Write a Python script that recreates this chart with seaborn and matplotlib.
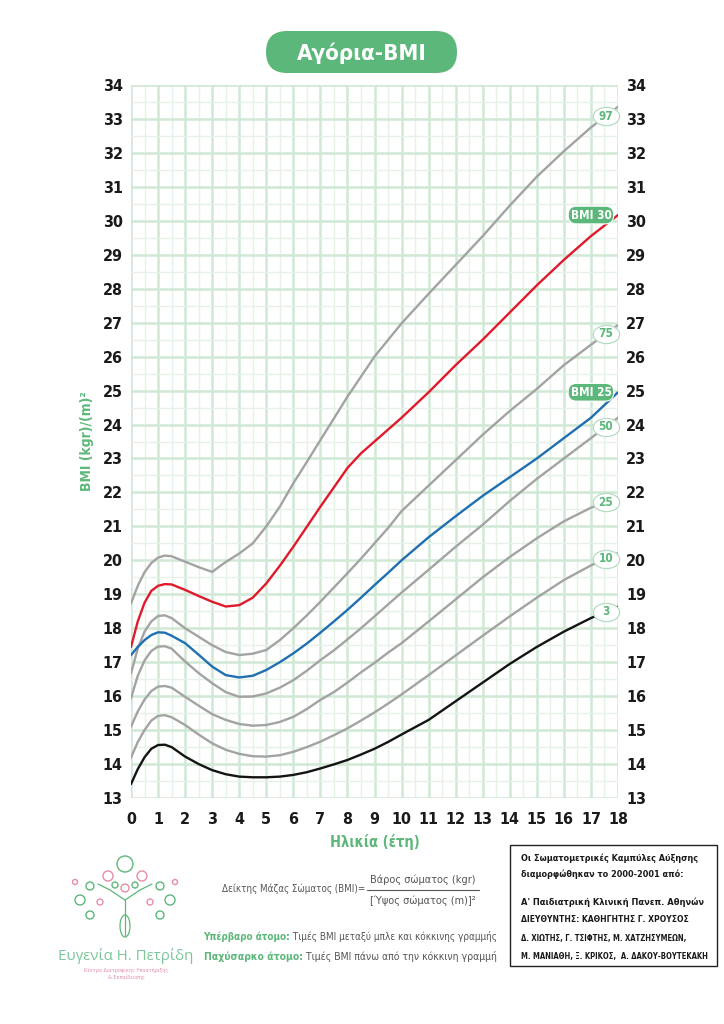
import numpy as np
import pandas as pd
import seaborn as sns
import matplotlib.pyplot as plt
from matplotlib.patches import FancyBboxPatch, Circle, Ellipse
from matplotlib.lines import Line2D
from matplotlib.path import Path
from matplotlib.transforms import Affine2D

sns.set_style('white')
plt.rcParams['font.family'] = ['DejaVu Sans']
plt.rcParams['font.stretch'] = 'condensed'

# ages (years) shared by all curves
ages = [0, 0.25, 0.5, 0.75, 1, 1.25, 1.5, 2, 2.5, 3, 3.5, 4, 4.5, 5, 5.5, 6, 6.5,
        7, 7.5, 8, 8.5, 9, 9.5, 10, 11, 12, 13, 14, 15, 16, 17, 18]

p3 = [13.41, 13.85, 14.2, 14.45, 14.56, 14.57, 14.5, 14.22, 14.0, 13.82, 13.7, 13.63,
      13.61, 13.61, 13.63, 13.68, 13.76, 13.87, 13.99, 14.12, 14.28, 14.45, 14.65, 14.87,
      15.3, 15.85, 16.4, 16.95, 17.45, 17.9, 18.3, 18.63]
p10 = [14.19, 14.65, 15.0, 15.28, 15.42, 15.44, 15.38, 15.15, 14.87, 14.61, 14.42, 14.3,
       14.23, 14.22, 14.26, 14.36, 14.5, 14.66, 14.85, 15.05, 15.28, 15.52, 15.78, 16.05,
       16.62, 17.2, 17.78, 18.35, 18.9, 19.42, 19.85, 20.21]
p25 = [15.1, 15.55, 15.9, 16.15, 16.28, 16.3, 16.25, 15.98, 15.72, 15.47, 15.3, 15.18,
       15.13, 15.15, 15.24, 15.39, 15.62, 15.89, 16.12, 16.4, 16.7, 16.98, 17.28, 17.56,
       18.2, 18.85, 19.5, 20.1, 20.65, 21.15, 21.55, 21.85]
p50 = [15.94, 16.6, 17.05, 17.33, 17.46, 17.47, 17.4, 17.02, 16.68, 16.38, 16.12, 15.98,
       15.99, 16.08, 16.25, 16.47, 16.75, 17.06, 17.35, 17.67, 18.0, 18.35, 18.7, 19.05,
       19.72, 20.4, 21.05, 21.75, 22.4, 23.0, 23.6, 24.2]
p75 = [16.67, 17.4, 17.9, 18.2, 18.36, 18.38, 18.3, 18.0, 17.75, 17.5, 17.3, 17.21,
       17.25, 17.36, 17.65, 18.0, 18.38, 18.78, 19.2, 19.62, 20.05, 20.5, 20.95, 21.45,
       22.2, 22.95, 23.7, 24.4, 25.05, 25.75, 26.35, 26.93]
p97 = [18.73, 19.25, 19.65, 19.92, 20.08, 20.14, 20.12, 19.96, 19.8, 19.66, 19.95, 20.2,
       20.5, 21.0, 21.58, 22.27, 22.9, 23.54, 24.18, 24.82, 25.41, 26.0, 26.49, 26.98,
       27.85, 28.7, 29.55, 30.45, 31.3, 32.05, 32.75, 33.36]
bmi25 = [17.21, 17.45, 17.65, 17.8, 17.88, 17.87, 17.78, 17.56, 17.22, 16.87, 16.62, 16.55,
         16.6, 16.77, 17.0, 17.26, 17.55, 17.87, 18.2, 18.54, 18.9, 19.27, 19.63, 20.0,
         20.68, 21.3, 21.9, 22.45, 23.0, 23.6, 24.2, 24.95]
bmi30 = [17.45, 18.2, 18.75, 19.1, 19.25, 19.3, 19.29, 19.13, 18.95, 18.78, 18.64, 18.68,
         18.9, 19.32, 19.84, 20.4, 20.99, 21.58, 22.15, 22.72, 23.15, 23.5, 23.85, 24.2,
         24.95, 25.75, 26.5, 27.3, 28.1, 28.85, 29.55, 30.17]

curves = {'97': p97, '75': p75, '50': p50, '25': p25, '10': p10,
          'BMI 30': bmi30, 'BMI 25': bmi25, '3': p3}
palette = {'97': '#a3a3a3', '75': '#a3a3a3', '50': '#a3a3a3', '25': '#a3a3a3',
           '10': '#a3a3a3', 'BMI 30': '#e0192b', 'BMI 25': '#1f6fb2', '3': '#141414'}

df = pd.DataFrame([(k, a, v) for k, vals in curves.items() for a, v in zip(ages, vals)],
                  columns=['curve', 'age', 'bmi'])

green = '#5cb87a'
pink = '#e58fa5'
grey_txt = '#555555'

fig = plt.figure(figsize=(7.24, 10.24), dpi=100)
renderer = fig.canvas.get_renderer()


def fit(t, max_px):
    # shrink a text until it is no wider than max_px
    while t.get_window_extent(renderer).width > max_px:
        t.set_fontsize(t.get_fontsize() - 0.2)
    return t


ax = fig.add_axes([131 / 724, 1 - 798 / 1024, 487 / 724, 713 / 1024])

sns.lineplot(data=df, x='age', y='bmi', hue='curve', palette=palette,
             estimator=None, sort=True, linewidth=1.7, legend=False, ax=ax, zorder=3)

ax.set_xlim(0, 18)
ax.set_ylim(13, 34)
ax.set_xticks(range(0, 19))
ax.set_yticks(range(13, 35))
ax.set_xticks(np.arange(0.5, 18, 1), minor=True)
ax.set_yticks(np.arange(13.5, 34, 1), minor=True)
ax.grid(which='major', color='#d0e8d4', linewidth=1.8, zorder=0)
ax.grid(which='minor', color='#e6f2e8', linewidth=1.0, zorder=0)
ax.set_axisbelow(True)
for s in ax.spines.values():
    s.set_visible(False)
ax.tick_params(which='both', length=0)
ax.tick_params(axis='y', labelright=True, labelsize=11.5, pad=6)
ax.tick_params(axis='x', labelsize=11.5, pad=10)
for t in ax.yaxis.get_major_ticks() + ax.xaxis.get_major_ticks():
    for lab in (t.label1, t.label2):
        lab.set_fontweight('bold')
        lab.set_color('#1a1a1a')

ax.set_xlabel('Ηλικία (έτη)', color=green, fontsize=10.5, fontweight='bold', labelpad=5)
ax.set_ylabel('BMI (kgr)/(m)²', color=green, fontsize=10, fontweight='bold', labelpad=6)

# curve labels: white ellipses on the percentile lines
ellipse = Path.unit_circle().transformed(Affine2D().scale(1.45, 1.0))
for key in ['97', '75', '50', '25', '10', '3']:
    yv = np.interp(17.55, ages, curves[key])
    ax.plot([17.55], [yv], marker=ellipse, ms=19, mfc='white', mec='#b7dcc2', mew=0.9,
            zorder=4, clip_on=False)
    ax.text(17.55, yv, key, ha='center', va='center', fontsize=8.5, fontweight='bold',
            color=green, zorder=5)
for key in ['BMI 30', 'BMI 25']:
    yv = curves[key][-1]
    ax.text(17.0, yv, key, ha='center', va='center', fontsize=8.5, fontweight='bold',
            color='white', zorder=5,
            bbox=dict(boxstyle='round,pad=0.2,rounding_size=0.7', fc=green, ec='white', lw=0.8))

# title pill
axt = fig.add_axes([265 / 724, 1 - 74 / 1024, 193 / 724, 44 / 1024])
axt.set_xlim(0, 193)
axt.set_ylim(0, 44)
axt.axis('off')
axt.add_patch(FancyBboxPatch((1, 1), 191, 42, boxstyle='round,pad=0,rounding_size=21',
                             fc=green, ec='none', clip_on=False))
axt.text(96.5, 21, 'Αγόρια-BMI', ha='center', va='center', color='white',
         fontsize=16, fontweight='bold')

# formula
fit(fig.text(365 / 724, 1 - 889 / 1024, 'Δείκτης Μάζας Σώματος (BMI)=', ha='right',
             va='center', fontsize=10, color=grey_txt), 146)
fit(fig.text(423 / 724, 1 - 880 / 1024, 'Βάρος σώματος (kgr)', ha='center', va='center',
             fontsize=10, color=grey_txt), 106)
fit(fig.text(423 / 724, 1 - 901 / 1024, '[Ύψος σώματος (m)]²', ha='center', va='center',
             fontsize=10, color=grey_txt), 106)
fig.add_artist(Line2D([367 / 724, 479 / 724], [1 - 890 / 1024, 1 - 890 / 1024],
                      color=grey_txt, lw=0.8))

# overweight / obese notes: grey part right-aligned, green label just before it
notes = [('Υπέρβαρο άτομο:', ' Τιμές BMI μεταξύ μπλε και κόκκινης γραμμής', 937, 212),
         ('Παχύσαρκο άτομο:', ' Τιμές BMI πάνω από την κόκκινη γραμμή', 957, 198)]
for head, body, py, wmax in notes:
    tb = fit(fig.text(497 / 724, 1 - py / 1024, body, ha='right', va='center',
                      fontsize=10.5, color=grey_txt), wmax)
    x0 = tb.get_window_extent(renderer).x0
    fig.text(x0 / 724, 1 - py / 1024, head, ha='right', va='center',
             fontsize=tb.get_fontsize(), color=green, fontweight='bold')

# source box
fig.add_artist(plt.Rectangle((510 / 724, 1 - 966 / 1024), 207 / 724, 121 / 1024,
                             transform=fig.transFigure, fill=False, ec='#222222', lw=1.0))
box_lines = [
    ('Οι Σωματομετρικές Καμπύλες Αύξησης', 858, 178),
    ('διαμορφώθηκαν το 2000-2001 από:', 874, 165),
    ("Α' Παιδιατρική Κλινική Πανεπ. Αθηνών", 902, 190),
    ('ΔΙΕΥΘΥΝΤΗΣ: ΚΑΘΗΓΗΤΗΣ Γ. ΧΡΟΥΣΟΣ', 920, 170),
    ('Δ. ΧΙΩΤΗΣ, Γ. ΤΣΙΦΤΗΣ, Μ. ΧΑΤΖΗΣΥΜΕΩΝ,', 938, 170),
    ('Μ. ΜΑΝΙΑΘΗ, Ξ. ΚΡΙΚΟΣ,  Α. ΔΑΚΟΥ-ΒΟΥΤΕΚΑΚΗ', 956, 192),
]
for txt, py, wmax in box_lines:
    fit(fig.text(521 / 724, 1 - py / 1024, txt, ha='left', va='center', fontsize=7.5,
                 fontweight='bold', color='#1a1a1a'), wmax)

# logo: a small decorative tree of fruit-like rings, then the name
axl = fig.add_axes([60 / 724, 1 - 940 / 1024, 130 / 724, 90 / 1024])
axl.set_xlim(0, 130)
axl.set_ylim(0, 90)
axl.axis('off')
axl.plot([65, 65], [5, 40], color=green, lw=0.9)
axl.plot([65, 50, 38], [40, 50, 56], color=green, lw=0.9)
axl.plot([65, 80, 92], [40, 50, 56], color=green, lw=0.9)
rings = [(65, 76, 8, green), (48, 64, 5, pink), (82, 64, 5, pink), (30, 54, 4, green),
         (100, 54, 4, green), (20, 40, 5, green), (110, 40, 5, green), (40, 38, 3, pink),
         (90, 38, 3, pink), (55, 55, 3, green), (75, 55, 3, green), (15, 58, 2.5, pink),
         (115, 58, 2.5, pink), (30, 25, 4, green), (100, 25, 4, green), (65, 52, 4, pink)]
for cx, cy, r, c in rings:
    axl.add_patch(Circle((cx, cy), r, fill=False, ec=c, lw=1.0))
axl.add_patch(Ellipse((65, 14), 10, 22, fill=False, ec=green, lw=0.9))

fit(fig.text(126 / 724, 1 - 956 / 1024, 'Ευγενία Η. Πετρίδη', ha='center', va='center',
             fontsize=16, color='#7cc79a', family=['Open Sans', 'DejaVu Sans'],
             fontstretch='normal'), 136)
fig.text(126 / 724, 1 - 970 / 1024, 'Κέντρο Διατροφικής Υποστήριξης', ha='center',
         va='center', fontsize=4, color=pink)
fig.text(126 / 724, 1 - 977 / 1024, '& Εκπαίδευσης', ha='center', va='center',
         fontsize=4, color=pink)

fig.savefig('out.png', dpi=100)
